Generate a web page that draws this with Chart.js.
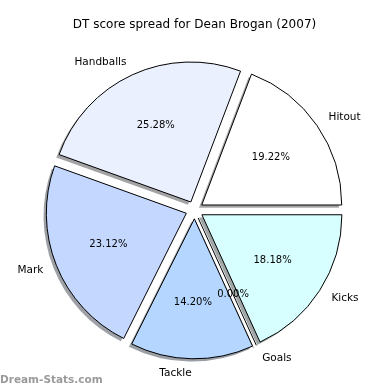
<!DOCTYPE html>
<html>
<head>
<meta charset="utf-8">
<script src="https://cdn.jsdelivr.net/npm/chart.js@4/dist/chart.umd.min.js"></script>
<style>
html,body{margin:0;padding:0;background:#fff;}
#wrap{width:390px;height:390px;}
</style>
</head>
<body>
<div id="wrap"><canvas id="c" width="390" height="390"></canvas></div>
<script>
// ---- data (matplotlib order: counter-clockwise from 3 o'clock) ----
const categories = ['Hitout', 'Handballs', 'Mark', 'Tackle', 'Goals', 'Kicks'];
const scores = [19.22, 25.28, 23.12, 14.20, 0.00, 18.18];
const sliceColors = ['#ffffff', '#ebf0ff', '#c4d8ff', '#b4d6ff', '#b8e8ff', '#d8ffff'];
const chartTitle = 'DT score spread for Dean Brogan (2007)';
const watermark = 'Dream-Stats.com';

// Chart.js draws clockwise, so feed the series reversed to get counter-clockwise order
const cjLabels = categories.slice().reverse();
const cjValues = scores.slice().reverse();
const cjColors = sliceColors.slice().reverse();

const EXPLODE = 8.8;       // px translation of each wedge
const SHADOW_DX = -2.8, SHADOW_DY = 2.8;
const FONT = 'DejaVu Sans';

function hexToRgb(h){
  const n = parseInt(h.slice(1), 16);
  return [(n >> 16) & 255, (n >> 8) & 255, n & 255];
}

const explodePlugin = {
  id: 'explodePie',
  beforeDatasetDraw(chart, args) {
    const ctx = chart.ctx;
    const meta = chart.getDatasetMeta(args.index);
    const els = meta.data;
    // shadows first
    els.forEach((el, i) => {
      const p = el.getProps(['x','y','startAngle','endAngle','outerRadius'], true);
      const mid = (p.startAngle + p.endAngle) / 2;
      const cx = p.x + Math.cos(mid) * EXPLODE + SHADOW_DX;
      const cy = p.y + Math.sin(mid) * EXPLODE + SHADOW_DY;
      const rgb = hexToRgb(cjColors[i]);
      const col = 'rgba(' + rgb.map(v => Math.round(v * 0.3)).join(',') + ',0.5)';
      ctx.save();
      if (p.endAngle - p.startAngle > 0) {
        ctx.beginPath();
        ctx.moveTo(cx, cy);
        ctx.arc(cx, cy, p.outerRadius, p.startAngle, p.endAngle);
        ctx.closePath();
        ctx.fillStyle = col;
        ctx.fill();
      } else {
        ctx.beginPath();
        ctx.moveTo(cx, cy);
        ctx.lineTo(cx + Math.cos(mid) * p.outerRadius, cy + Math.sin(mid) * p.outerRadius);
        ctx.strokeStyle = col;
        ctx.lineWidth = 1;
        ctx.stroke();
      }
      ctx.restore();
    });
    // wedges
    els.forEach((el) => {
      const p = el.getProps(['x','y','startAngle','endAngle','outerRadius'], true);
      const mid = (p.startAngle + p.endAngle) / 2;
      ctx.save();
      ctx.translate(Math.cos(mid) * EXPLODE, Math.sin(mid) * EXPLODE);
      if (p.endAngle - p.startAngle > 0) {
        el.draw(ctx, chart.chartArea);
      } else {
        ctx.beginPath();
        ctx.moveTo(p.x, p.y);
        ctx.lineTo(p.x + Math.cos(mid) * p.outerRadius, p.y + Math.sin(mid) * p.outerRadius);
        ctx.strokeStyle = '#000';
        ctx.lineWidth = 1;
        ctx.stroke();
      }
      ctx.restore();
    });
    return false;
  },
  afterDatasetsDraw(chart) {
    const ctx = chart.ctx;
    const meta = chart.getDatasetMeta(0);
    const values = chart.data.datasets[0].data;
    const total = values.reduce((a, b) => a + b, 0);
    ctx.save();
    ctx.fillStyle = '#000';
    ctx.textBaseline = 'middle';
    meta.data.forEach((el, i) => {
      const p = el.getProps(['x','y','startAngle','endAngle','outerRadius'], true);
      const mid = (p.startAngle + p.endAngle) / 2;
      const cx = p.x + Math.cos(mid) * EXPLODE;
      const cy = p.y + Math.sin(mid) * EXPLODE;
      const c = Math.cos(mid), s = Math.sin(mid);
      // category label
      ctx.font = '10.5px "' + FONT + '"';
      ctx.textAlign = c > 0 ? 'left' : 'right';
      ctx.fillText(chart.data.labels[i], cx + c * p.outerRadius * 1.1, cy + s * p.outerRadius * 1.1);
      // percentage
      ctx.font = '10px "' + FONT + '"';
      ctx.textAlign = 'center';
      const pct = (values[i] / total * 100).toFixed(2) + '%';
      ctx.fillText(pct, cx + c * p.outerRadius * 0.6, cy + s * p.outerRadius * 0.6);
    });
    ctx.restore();
  },
  afterDraw(chart) {
    const ctx = chart.ctx;
    ctx.save();
    ctx.font = 'bold 10.5px "' + FONT + '"';
    ctx.fillStyle = '#9a9a9a';
    ctx.textAlign = 'left';
    ctx.textBaseline = 'middle';
    ctx.fillText(watermark, 0, 380);
    ctx.restore();
  }
};

new Chart(document.getElementById('c'), {
  type: 'pie',
  data: {
    labels: cjLabels,
    datasets: [{
      data: cjValues,
      backgroundColor: cjColors,
      borderColor: '#000',
      borderWidth: 1,
      radius: 140
    }]
  },
  options: {
    responsive: false,
    animation: false,
    rotation: 90,
    layout: { padding: { left: 0, right: 1, top: 0, bottom: 2.4 } },
    plugins: {
      legend: { display: false },
      tooltip: { enabled: false },
      title: {
        display: true,
        text: chartTitle,
        color: '#000',
        font: { family: FONT, size: 12, weight: 'normal' },
        padding: { top: 18, bottom: 0 }
      }
    }
  },
  plugins: [explodePlugin]
});
</script>
</body>
</html>
